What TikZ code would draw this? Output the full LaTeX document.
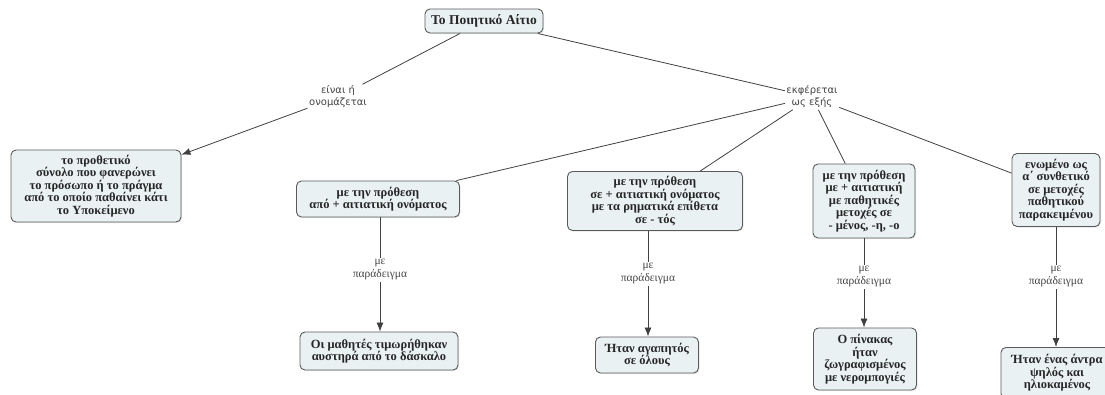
\documentclass[tikz,border=0pt]{standalone}
\usepackage{fontspec}
\setmainfont{Liberation Serif}
\newfontfamily\labsans{DejaVu Sans}
\usetikzlibrary{arrows.meta,shadows}
\definecolor{boxfill}{HTML}{E9F1F3}
\definecolor{boxline}{HTML}{5A5A5A}
\definecolor{linkcol}{HTML}{444444}
\tikzset{
  concept/.style={draw=boxline, line width=0.9pt, fill=boxfill, rounded corners=5pt,
    align=center, inner sep=1pt, font=\fontsize{12.5}{12.6}\selectfont\bfseries,
    text=black!85, drop shadow={opacity=0.2, shadow xshift=1pt, shadow yshift=-1pt}},
  linklab/.style={align=center, inner sep=1.5pt, text=linkcol, font=\fontsize{11.5}{13}\selectfont},
  linksans/.style={linklab, font=\labsans\fontsize{10}{12}\selectfont},
  conn/.style={draw=black!75, line width=0.8pt},
  arr/.style={conn, -{Latex[length=9pt,width=7pt]}}
}
\begin{document}
\begin{tikzpicture}[x=1pt,y=-1pt]
\useasboundingbox (0,0) rectangle (1105,394);
\clip (0,0) rectangle (1105,394);
\node[concept, minimum width=118pt, minimum height=24pt, font=\fontsize{13.5}{14}\selectfont\bfseries] (top) at (484,21) {Το Ποιητικό Αίτιο};
\node[linksans] (lab1) at (338,97) {είναι ή\\ονομάζεται};
\node[linksans] (lab2) at (812,97) {εκφέρεται\\ως εξής};
\node[concept, minimum width=170pt, minimum height=72pt] (b1) at (96,186)
  {το προθετικό\\σύνολο που φανερώνει\\το πρόσωπο ή το πράγμα\\από το οποίο παθαίνει κάτι\\το Υποκείμενο};
\node[concept, minimum width=163pt, minimum height=36pt] (b2) at (378,199)
  {με την πρόθεση\\από + αιτιατική ονόματος};
\node[concept, minimum width=175pt, minimum height=59pt] (b3) at (655,201)
  {με την πρόθεση\\σε + αιτιατική ονόματος\\με τα ρηματικά επίθετα\\σε - τός};
\node[concept, minimum width=102pt, minimum height=74pt] (b4) at (864,201)
  {με την πρόθεση\\με + αιτιατική\\με παθητικές\\μετοχές σε\\- μένος, -η, -ο};
\node[concept, minimum width=88pt, minimum height=73pt] (b5) at (1056,190)
  {ενωμένο ως\\α΄ συνθετικό\\σε μετοχές\\παθητικού\\παρακειμένου};
\node[linklab] (l2) at (380,270) {με\\παράδειγμα};
\node[linklab] (l3) at (648,274) {με\\παράδειγμα};
\node[linklab] (l4) at (864,277) {με\\παράδειγμα};
\node[linklab] (l5) at (1056,277) {με\\παράδειγμα};
\node[concept, minimum width=158pt, minimum height=38pt] (e2) at (379,351)
  {Οι μαθητές τιμωρήθηκαν\\αυστηρά από το δάσκαλο};
\node[concept, minimum width=103pt, minimum height=36pt] (e3) at (647,355)
  {Ήταν αγαπητός\\σε όλους};
\node[concept, minimum width=103pt, minimum height=62pt] (e4) at (865,359)
  {Ο πίνακας\\ήταν\\ζωγραφισμένος\\με νερομπογιές};
\node[concept, minimum width=112pt, inner ysep=7pt, anchor=north] (e5) at (1057,347)
  {Ήταν ένας άντρα\\ψηλός και\\ηλιοκαμένος};
\draw[conn] (top) -- (lab1);
\draw[arr] (lab1) -- (b1);
\draw[conn] (top) -- (lab2);
\draw[conn] (lab2) -- (b2);
\draw[conn] (lab2) -- (b3);
\draw[conn] (lab2) -- (b4);
\draw[conn] (lab2) -- (b5);
\draw[conn] (b2.south -| l2) -- (l2);
\draw[arr] (l2) -- (l2 |- e2.north);
\draw[conn] (b3.south -| l3) -- (l3);
\draw[arr] (l3) -- (l3 |- e3.north);
\draw[conn] (b4.south -| l4) -- (l4);
\draw[arr] (l4) -- (l4 |- e4.north);
\draw[conn] (b5.south -| l5) -- (l5);
\draw[arr] (l5) -- (l5 |- e5.north);
\end{tikzpicture}
\end{document}
